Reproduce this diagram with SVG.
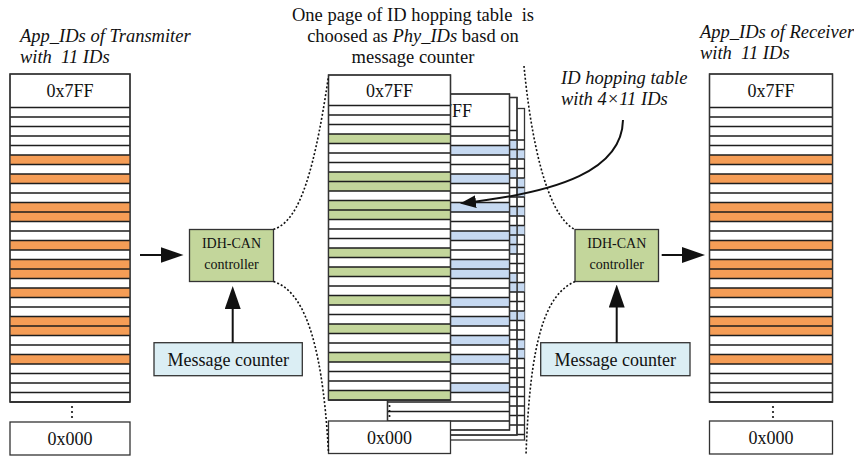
<svg xmlns="http://www.w3.org/2000/svg" xmlns:xlink="http://www.w3.org/1999/xlink" width="854" height="458" viewBox="0 0 854 458">
<style>
text{font-family:"Liberation Serif","Times New Roman",serif;fill:#111;white-space:pre}
.it{font-style:italic}
.t18{font-size:18.5px}
.hd{font-size:18px;text-anchor:middle}
.ct{font-size:14px;text-anchor:middle}
.mc{font-size:18px;text-anchor:middle}
.fr{fill:#fff;stroke:#333;stroke-width:1.3}
.ln{fill:none;stroke:#1e1e1e;stroke-width:1.3}
.o{fill:#F59D56}
.g{fill:#C3D69B}
.b{fill:#C6D9F1}
.ctrl{fill:#C3D69B;stroke:#333;stroke-width:1.3}
.cnt{fill:#DBEEF4;stroke:#333;stroke-width:1.3}
.dot{fill:none;stroke:#111;stroke-width:1.6;stroke-dasharray:2 2}
.arr{fill:none;stroke:#111;stroke-width:2}
</style>
<defs>
<path id="r120" d="M0,0h120m-120,9.5h120m-120,9.5h120m-120,9.5h120m-120,9.5h120m-120,9.5h120m-120,9.5h120m-120,9.5h120m-120,9.5h120m-120,9.5h120m-120,9.5h120m-120,9.5h120m-120,9.5h120m-120,9.5h120m-120,9.5h120m-120,9.5h120m-120,9.5h120m-120,9.5h120m-120,9.5h120m-120,9.5h120m-120,9.5h120m-120,9.5h120m-120,9.5h120m-120,9.5h120m-120,9.5h120m-120,9.5h120m-120,9.5h120m-120,9.5h120m-120,9.5h120m-120,9.5h120m-120,9.5h120m-120,9.5h120"/>
<path id="r122" d="M0,0h122m-122,9.5h122m-122,9.5h122m-122,9.5h122m-122,9.5h122m-122,9.5h122m-122,9.5h122m-122,9.5h122m-122,9.5h122m-122,9.5h122m-122,9.5h122m-122,9.5h122m-122,9.5h122m-122,9.5h122m-122,9.5h122m-122,9.5h122m-122,9.5h122m-122,9.5h122m-122,9.5h122m-122,9.5h122m-122,9.5h122m-122,9.5h122m-122,9.5h122m-122,9.5h122m-122,9.5h122m-122,9.5h122m-122,9.5h122m-122,9.5h122m-122,9.5h122m-122,9.5h122m-122,9.5h122m-122,9.5h122"/>
<path id="r123" d="M0,0h123m-123,9.5h123m-123,9.5h123m-123,9.5h123m-123,9.5h123m-123,9.5h123m-123,9.5h123m-123,9.5h123m-123,9.5h123m-123,9.5h123m-123,9.5h123m-123,9.5h123m-123,9.5h123m-123,9.5h123m-123,9.5h123m-123,9.5h123m-123,9.5h123m-123,9.5h123m-123,9.5h123m-123,9.5h123m-123,9.5h123m-123,9.5h123m-123,9.5h123m-123,9.5h123m-123,9.5h123m-123,9.5h123m-123,9.5h123m-123,9.5h123m-123,9.5h123m-123,9.5h123m-123,9.5h123m-123,9.5h123"/>
<g id="vdots"><circle cx="0" cy="0" r="1.1" fill="#111"/><circle cx="0" cy="5" r="1.1" fill="#111"/><circle cx="0" cy="10" r="1.1" fill="#111"/></g>
<marker id="ah" viewBox="0 0 23 16" refX="17.5" refY="8" markerWidth="23" markerHeight="16" markerUnits="userSpaceOnUse" orient="auto"><path d="M0,0L23,8L0,16z" fill="#111"/></marker>
<marker id="ah2" viewBox="0 0 16 13" refX="12" refY="6.5" markerWidth="16" markerHeight="13" markerUnits="userSpaceOnUse" orient="auto"><path d="M0,0L16,6.5L0,13z" fill="#111"/></marker>
</defs>

<g id="labels">
<text class="t18 it" x="20" y="42">App_IDs of Transmiter</text>
<text class="t18 it" x="20" y="63">with  11 IDs</text>
<text class="t18" x="413" y="21" text-anchor="middle">One page of ID hopping table  is</text>
<text class="t18" x="413" y="42" text-anchor="middle">choosed as <tspan class="it">Phy_IDs</tspan> basd on</text>
<text class="t18" x="413" y="63" text-anchor="middle">message counter</text>
<text class="t18 it" x="561" y="84" font-size="18px">ID hopping table</text>
<text class="t18 it" x="561" y="105" font-size="18px">with 4×11 IDs</text>
<text class="t18 it" x="700" y="37.5">App_IDs of Receiver</text>
<text class="t18 it" x="700" y="58.5">with  11 IDs</text>
</g>

<g id="tx-app-ids">
<rect class="fr" x="10" y="74" width="120" height="328"/>
<rect class="o" x="10" y="155" width="120" height="9.5"/>
<rect class="o" x="10" y="174" width="120" height="9.5"/>
<rect class="o" x="10" y="202.5" width="120" height="19"/>
<rect class="o" x="10" y="240.5" width="120" height="9.5"/>
<rect class="o" x="10" y="259.5" width="120" height="19"/>
<rect class="o" x="10" y="288" width="120" height="9.5"/>
<rect class="o" x="10" y="316.5" width="120" height="19"/>
<rect class="o" x="10" y="354.5" width="120" height="9.5"/>
<use xlink:href="#r120" class="ln" x="10" y="107.5"/>
<rect x="10" y="74" width="120" height="328" style="fill:none;stroke:#333;stroke-width:1.3"/>
<text class="hd" x="70" y="97">0x7FF</text>
<use xlink:href="#vdots" x="72" y="407"/>
<rect class="fr" x="10" y="422" width="120" height="33"/>
<text class="hd" x="70" y="445">0x000</text>
</g>

<g id="hopping-table">
<g id="page4">
<rect class="fr" x="402.5" y="108.5" width="122" height="331.5"/>
<rect class="b" x="402.5" y="149.5" width="122" height="9.5"/>
<rect class="b" x="402.5" y="178" width="122" height="19"/>
<rect class="b" x="402.5" y="206.5" width="122" height="9.5"/>
<rect class="b" x="402.5" y="225.5" width="122" height="9.5"/>
<rect class="b" x="402.5" y="282.5" width="122" height="9.5"/>
<rect class="b" x="402.5" y="311" width="122" height="9.5"/>
<rect class="b" x="402.5" y="339.5" width="122" height="19"/>
<use xlink:href="#r122" class="ln" x="402.5" y="140"/>
</g>
<g id="page3">
<rect class="fr" x="395" y="97.5" width="122" height="337.5"/>
<rect class="b" x="395" y="140" width="122" height="19"/>
<rect class="b" x="395" y="168.5" width="122" height="9.5"/>
<rect class="b" x="395" y="206.5" width="122" height="9.5"/>
<rect class="b" x="395" y="225.5" width="122" height="28.5"/>
<rect class="b" x="395" y="273" width="122" height="19"/>
<rect class="b" x="395" y="311" width="122" height="9.5"/>
<use xlink:href="#r122" class="ln" x="395" y="130.5"/>
<rect x="395" y="97.5" width="122" height="337.5" style="fill:none;stroke:#333;stroke-width:1.3"/>
</g>
<g id="page2">
<rect class="fr" x="387.5" y="94" width="122" height="336"/>
<rect class="b" x="387.5" y="145.5" width="122" height="9.5"/>
<rect class="b" x="387.5" y="174" width="122" height="9.5"/>
<rect class="b" x="387.5" y="202.5" width="122" height="9.5"/>
<rect class="b" x="387.5" y="231" width="122" height="9.5"/>
<rect class="b" x="387.5" y="259.5" width="122" height="19"/>
<rect class="b" x="387.5" y="297.5" width="122" height="9.5"/>
<rect class="b" x="387.5" y="316.5" width="122" height="9.5"/>
<rect class="b" x="387.5" y="335.5" width="122" height="9.5"/>
<rect class="b" x="387.5" y="354.5" width="122" height="9.5"/>
<rect class="b" x="387.5" y="383" width="122" height="9.5"/>
<use xlink:href="#r122" class="ln" x="387.5" y="126.5"/>
<rect x="387.5" y="94" width="122" height="336" style="fill:none;stroke:#333;stroke-width:1.3"/>
<text class="hd" x="448.5" y="116.5">0x7FF</text>
</g>
<g id="page1">
<rect class="fr" x="328.5" y="75" width="122" height="325"/>
<rect class="g" x="328.5" y="134" width="122" height="9.5"/>
<rect class="g" x="328.5" y="172" width="122" height="19"/>
<rect class="g" x="328.5" y="200.5" width="122" height="19"/>
<rect class="g" x="328.5" y="248" width="122" height="9.5"/>
<rect class="g" x="328.5" y="267" width="122" height="9.5"/>
<rect class="g" x="328.5" y="295.5" width="122" height="9.5"/>
<rect class="g" x="328.5" y="324" width="122" height="9.5"/>
<rect class="g" x="328.5" y="352.5" width="122" height="9.5"/>
<rect class="g" x="328.5" y="390.5" width="122" height="9.5"/>
<use xlink:href="#r122" class="ln" x="328.5" y="105.5"/>
<rect x="328.5" y="75" width="122" height="325" style="fill:none;stroke:#333;stroke-width:1.3"/>
<text class="hd" x="389.5" y="96.5">0x7FF</text>
<use xlink:href="#vdots" x="389.5" y="406"/>
<rect class="fr" x="328.5" y="421" width="122" height="32.5"/>
<text class="hd" x="389.5" y="444">0x000</text>
</g>
</g>

<g id="rx-app-ids">
<rect class="fr" x="709.5" y="74" width="123" height="328"/>
<rect class="o" x="709.5" y="155" width="123" height="9.5"/>
<rect class="o" x="709.5" y="174" width="123" height="9.5"/>
<rect class="o" x="709.5" y="202.5" width="123" height="19"/>
<rect class="o" x="709.5" y="240.5" width="123" height="9.5"/>
<rect class="o" x="709.5" y="259.5" width="123" height="19"/>
<rect class="o" x="709.5" y="288" width="123" height="9.5"/>
<rect class="o" x="709.5" y="316.5" width="123" height="19"/>
<rect class="o" x="709.5" y="354.5" width="123" height="9.5"/>
<use xlink:href="#r123" class="ln" x="709.5" y="107.5"/>
<rect x="709.5" y="74" width="123" height="328" style="fill:none;stroke:#333;stroke-width:1.3"/>
<text class="hd" x="771" y="97">0x7FF</text>
<use xlink:href="#vdots" x="773" y="407"/>
<rect class="fr" x="709.5" y="421" width="123" height="33"/>
<text class="hd" x="771" y="444">0x000</text>
</g>

<g id="ctrl-tx">
<rect class="ctrl" x="189.5" y="229.5" width="84" height="52"/>
<text class="ct" x="231.5" y="248">IDH-CAN</text>
<text class="ct" x="231.5" y="268.5">controller</text>
</g>
<g id="ctrl-rx">
<rect class="ctrl" x="575" y="229.5" width="83.5" height="52"/>
<text class="ct" x="616.7" y="248">IDH-CAN</text>
<text class="ct" x="616.7" y="268.5">controller</text>
</g>
<g id="counter-tx">
<rect class="cnt" x="154" y="342.7" width="148.3" height="33"/>
<text class="mc" x="228.2" y="365.5">Message counter</text>
</g>
<g id="counter-rx">
<rect class="cnt" x="540.7" y="342.7" width="149.3" height="33"/>
<text class="mc" x="615.3" y="365.5">Message counter</text>
</g>

<g id="connectors">
<line class="arr" x1="140" y1="255" x2="178" y2="255" marker-end="url(#ah)"/>
<line class="arr" x1="661.7" y1="255" x2="699.5" y2="255" marker-end="url(#ah)"/>
<line class="arr" x1="232.7" y1="342.7" x2="232.7" y2="291.5" marker-end="url(#ah)"/>
<line class="arr" x1="616.7" y1="342.7" x2="616.7" y2="290" marker-end="url(#ah)"/>
<path class="arr" d="M623,120C622,170 560,192 464,203" marker-end="url(#ah2)"/>
<path class="dot" d="M273.5,229.5C295,222 312,190 328.5,76"/>
<path class="dot" d="M273.5,281.5C300,290 322,330 328.5,453"/>
<path class="dot" d="M524,66C530,130 545,215 575,229.5"/>
<path class="dot" d="M575,281.5C545,295 530,340 526,455"/>
</g>
</svg>
